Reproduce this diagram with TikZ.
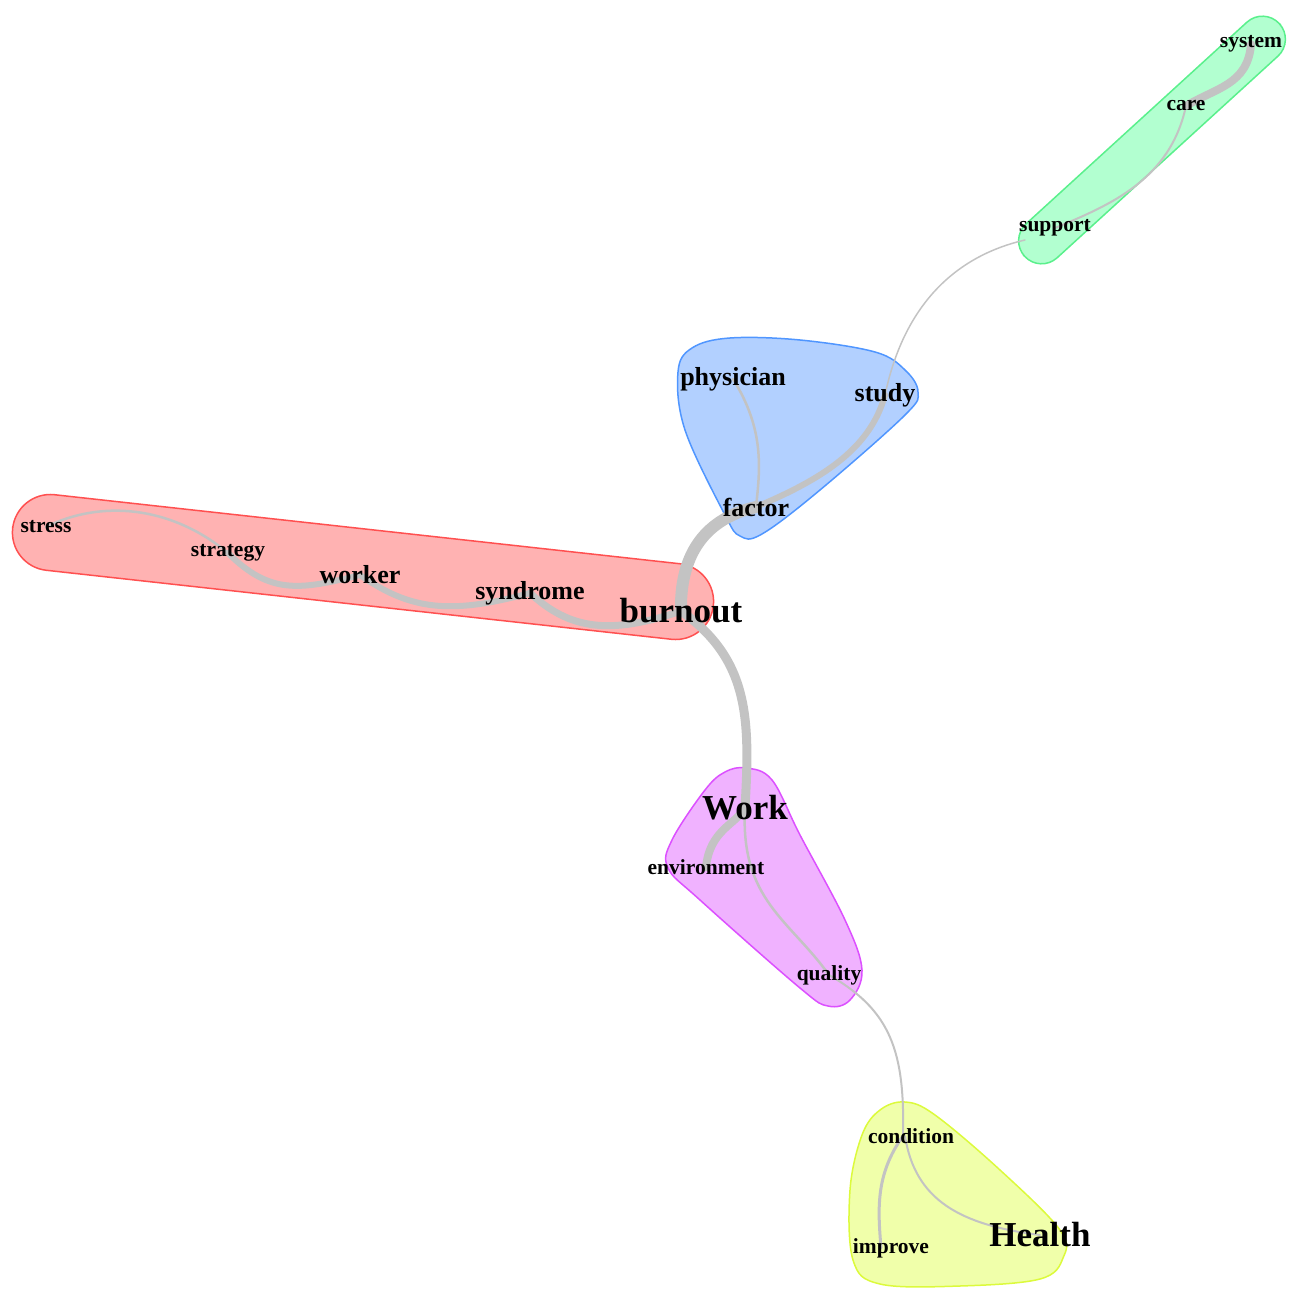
\documentclass[tikz,border=0pt]{standalone}
\usepackage{fontspec}
\setmainfont{Liberation Serif}
\pgfdeclarelayer{blobs}
\pgfdeclarelayer{edges}
\pgfsetlayers{blobs,edges,main}
\definecolor{gfill}{RGB}{178,255,208}\definecolor{gline}{RGB}{90,240,140}
\definecolor{bfill}{RGB}{178,208,255}\definecolor{bline}{RGB}{80,150,255}
\definecolor{rfill}{RGB}{255,178,178}\definecolor{rline}{RGB}{255,80,80}
\definecolor{pfill}{RGB}{240,178,255}\definecolor{pline}{RGB}{220,80,255}
\definecolor{yfill}{RGB}{240,255,170}\definecolor{yline}{RGB}{220,250,60}
\definecolor{edgegray}{RGB}{195,195,195}
\tikzset{
  wsmall/.style={font=\fontsize{21.5}{24}\selectfont\bfseries, inner sep=0pt},
  wmed/.style={font=\fontsize{26}{30}\selectfont\bfseries, inner sep=0pt},
  wbig/.style={font=\fontsize{35}{40}\selectfont\bfseries, inner sep=0pt},
  blob/.style={line width=1.5pt},
  link/.style={draw=edgegray, line cap=round},
}
\begin{document}
\begin{tikzpicture}[x=1pt,y=-1pt]
\useasboundingbox (0,0) rectangle (1290,1289);
\begin{pgfonlayer}{blobs}
\node[blob, fill=gfill, draw=gline, rectangle, rounded corners=23pt, minimum width=345pt, minimum height=46pt, inner sep=0pt, rotate=42.4] (greenblob) at (1152,140) {};
\node[blob, fill=rfill, draw=rline, rectangle, rounded corners=38pt, minimum width=705pt, minimum height=76pt, inner sep=0pt, rotate=-6.3] (redblob) at (363,567) {};
\filldraw[blob, fill=bfill, draw=bline] plot[smooth cycle, tension=0.6] coordinates {
 (678,372) (692,348) (730,338) (800,340) (875,352) (905,370) (918,392) (905,415) (820,490) (762,534) (740,536) (725,515) (685,430)};
\filldraw[blob, fill=pfill, draw=pline] plot[smooth cycle, tension=0.6] coordinates {
 (746,768) (772,780) (800,835) (845,920) (862,970) (850,1000) (828,1006) (800,988) (700,900) (668,868) (672,840) (705,790) (725,772)};
\filldraw[blob, fill=yfill, draw=yline] plot[smooth cycle, tension=0.6] coordinates {
 (905,1102) (935,1115) (1000,1170) (1060,1230) (1063,1258) (1040,1279) (960,1286) (880,1284) (853,1260) (850,1190) (862,1135) (880,1110)};
\end{pgfonlayer}

\node[wsmall] (system) at (1251,44) {system};
\node[wsmall] (care) at (1186,106) {care};
\node[wsmall] (support) at (1055,228) {support};
\node[wmed] (physician) at (733,379) {physician};
\node[wmed] (study) at (885,395) {study};
\node[wmed] (factor) at (756,507) {factor};
\node[wsmall] (stress) at (46,527) {stress};
\node[wsmall] (strategy) at (228,553) {strategy};
\node[wmed] (worker) at (360,575) {worker};
\node[wmed] (syndrome) at (530,593) {syndrome};
\node[wbig] (burnout) at (681,611) {burnout};
\node[wbig] (work) at (745,808) {Work};
\node[wsmall] (environment) at (706,867) {environment};
\node[wsmall] (quality) at (829,975) {quality};
\node[wsmall] (condition) at (911,1136) {condition};
\node[wsmall] (improve) at (891,1248) {improve};
\node[wbig] (health) at (1040,1235) {Health};

\begin{pgfonlayer}{edges}
\draw[link, line width=8pt] (system.center) .. controls (1248,85) and (1215,88) .. (care.center);
\draw[link, line width=2pt] (care.center) .. controls (1170,180) and (1110,205) .. (support.center);
\draw[link, line width=1.5pt] ([shift={(-30,12)}]support.center) .. controls (960,255) and (905,300) .. (study.center);
\draw[link, line width=6pt] (study.center) .. controls (870,450) and (820,480) .. (factor.center);
\draw[link, line width=2.5pt] (physician.center) .. controls (765,430) and (760,470) .. (factor.center);
\draw[link, line width=12pt] (factor.center) .. controls (700,520) and (680,560) .. (burnout.center);
\draw[link, line width=9pt] (burnout.center) .. controls (750,660) and (750,720) .. (work.center);
\draw[link, line width=8pt] (work.center) .. controls (735,825) and (710,830) .. (environment.center);
\draw[link, line width=2.5pt] (work.center) .. controls (740,900) and (790,920) .. (quality.center);
\draw[link, line width=2pt] (quality.center) .. controls (890,1010) and (905,1050) .. ([xshift=-8]condition.center);
\draw[link, line width=3pt] ([xshift=-8]condition.center) .. controls (875,1175) and (878,1210) .. ([xshift=-10]improve.center);
\draw[link, line width=2pt] ([xshift=-6]condition.center) .. controls (915,1200) and (960,1225) .. (health.center);
\draw[link, line width=2.5pt] (stress.center) .. controls (100,500) and (170,505) .. (strategy.center);
\draw[link, line width=6pt] (strategy.center) .. controls (270,595) and (300,590) .. (worker.center);
\draw[link, line width=6pt] (worker.center) .. controls (410,610) and (450,615) .. (syndrome.center);
\draw[link, line width=7pt] (syndrome.center) .. controls (570,630) and (610,635) .. (burnout.center);
\end{pgfonlayer}
\end{tikzpicture}
\end{document}
